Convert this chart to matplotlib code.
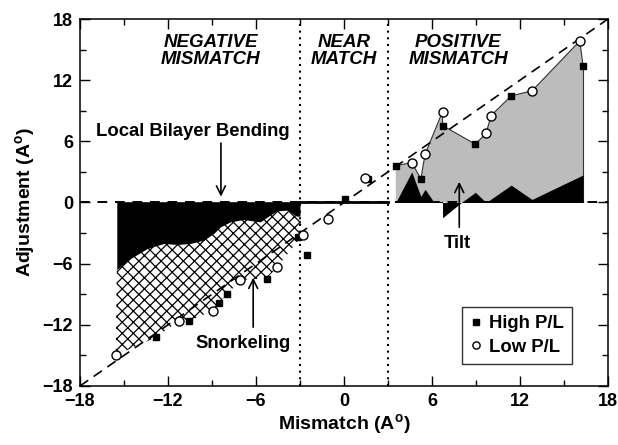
import matplotlib
matplotlib.use("Agg")
import matplotlib.pyplot as plt
import numpy as np
from matplotlib.ticker import MultipleLocator

plt.rcParams['font.family'] = ['Liberation Sans', 'DejaVu Sans']
plt.rcParams['font.weight'] = 'bold'
plt.rcParams['mathtext.fontset'] = 'custom'
plt.rcParams['mathtext.rm'] = 'Liberation Sans:bold'
plt.rcParams['mathtext.bf'] = 'Liberation Sans:bold'
plt.rcParams['hatch.linewidth'] = 0.9

# data
high_x = [-12.84, -10.58, -8.54, -7.98, -5.26, -3.11, -2.55, 0.1, 1.63, 3.53, 5.24, 6.72, 8.96, 11.4, 16.3]
high_y = [-13.24, -11.63, -9.9, -9.02, -7.55, -3.37, -5.16, 0.3, 2.27, 3.6, 2.32, 7.55, 5.72, 10.46, 13.4]
low_x = [-15.56, -11.26, -8.95, -7.07, -4.58, -2.82, -1.06, 1.45, 4.62, 5.53, 6.72, 9.69, 10.03, 12.82, 16.08]
low_y = [-14.97, -11.63, -10.62, -7.61, -6.37, -3.2, -1.58, 2.37, 3.92, 4.74, 8.92, 6.8, 8.53, 10.95, 15.85]

# local bilayer bending (black, negative side)
bend_x = [-15.49, -14.54, -13.41, -12.28, -11.37, -10.47, -9.56, -8.88, -8.43, -7.75, -6.85, -5.71, -5.04, -4.58, -3.9, -3.23, -3.0]
bend_y = [-6.57, -5.49, -4.51, -4.02, -4.12, -4.02, -3.69, -3.04, -2.39, -1.9, -1.67, -1.9, -1.24, -0.82, -0.75, -1.34, -1.34]

# snorkeling lower edge
snork_x = [-15.56, -12.84, -11.26, -10.58, -8.95, -8.54, -7.98, -7.07, -5.26, -4.58, -2.82]
snork_y = [-14.97, -13.24, -11.63, -11.63, -10.62, -9.9, -9.02, -7.61, -7.45, -6.37, -3.2]

# positive mismatch envelope (gray) and tilt (black)
pos_x = [3.53, 4.62, 5.24, 5.53, 6.72, 6.72, 8.96, 9.69, 10.03, 11.4, 12.82, 16.08, 16.3]
pos_y = [3.6, 3.92, 2.32, 4.74, 8.92, 7.55, 5.72, 6.8, 8.53, 10.46, 10.95, 15.85, 13.4]
tilt_x = [3.53, 4.62, 5.24, 5.53, 6.1, 6.72, 6.72, 8.0, 8.96, 9.69, 11.4, 12.82, 16.3]
tilt_y = [0, 3.0, 0.6, 1.3, 0.1, 0.1, -1.5, 0, 1.0, 0, 1.7, 0.3, 2.7]

fig = plt.figure(figsize=(6.18, 4.45), dpi=100)
ax = fig.add_axes([0.1294, 0.1326, 0.8544, 0.8247])

# fills
ax.fill_between(bend_x, bend_y, 0.08, color='black', lw=0, zorder=2)
poly_x = bend_x + snork_x[::-1]
poly_y = bend_y + snork_y[::-1]
ax.fill(poly_x, poly_y, facecolor='white', edgecolor='black', hatch='xxx', lw=0, zorder=1)
ax.fill_between(pos_x, 0, pos_y, facecolor='#bcbcbc', edgecolor='none', zorder=1)
ax.plot(pos_x, pos_y, color='#333333', lw=0.8, zorder=2)
ax.plot([pos_x[-1], pos_x[-1]], [0, pos_y[-1]], color='#333333', lw=0.8, zorder=2)
ax.fill_between(tilt_x, 0, tilt_y, color='black', lw=0, zorder=2)

# reference lines
ax.plot([-18, 18], [-18, 18], color='black', ls=(0, (6, 4)), lw=1.2, zorder=3)
ax.axhline(0, color='black', ls=(0, (5, 4)), lw=1.4, zorder=1.5)
ax.plot([-3, 3], [0, 0], color='black', lw=2, zorder=3)
for xv in (-3, 3):
    ax.axvline(xv, color='black', ls=(0, (1, 2.2)), lw=1.5, zorder=3)

# data points
ax.plot(high_x, high_y, 's', color='black', ms=5, ls='none', zorder=5, label='High P/L')
ax.plot(low_x, low_y, 'o', mfc='white', mec='black', mew=1, ms=6.5, ls='none', zorder=5, label='Low P/L')

# region labels
kw = dict(ha='center', va='center', fontsize=13.5, fontweight='bold', style='italic', linespacing=1.05)
ax.text(-9.1, 14.85, 'NEGATIVE\nMISMATCH', **kw)
ax.text(0, 14.85, 'NEAR\nMATCH', **kw)
ax.text(7.8, 14.85, 'POSITIVE\nMISMATCH', **kw)

# annotations
ax.text(-10.3, 6.94, 'Local Bilayer Bending', ha='center', va='center', fontsize=13.3)
ax.annotate('', xy=(-8.39, 0.3), xytext=(-8.39, 6.1),
            arrowprops=dict(arrowstyle='->', lw=1.2, color='black', mutation_scale=16))
ax.text(-6.9, -13.8, 'Snorkeling', ha='center', va='center', fontsize=13.3)
ax.annotate('', xy=(-6.19, -7.1), xytext=(-6.19, -12.5),
            arrowprops=dict(arrowstyle='->', lw=1.2, color='black', mutation_scale=16))
ax.text(7.7, -4.0, 'Tilt', ha='center', va='center', fontsize=13.3)
ax.annotate('', xy=(7.86, 2.3), xytext=(7.86, -2.7),
            arrowprops=dict(arrowstyle='->', lw=1.2, color='black', mutation_scale=16))

ax.set_xlim(-18, 18)
ax.set_ylim(-18, 18)
ax.xaxis.set_major_locator(MultipleLocator(6))
ax.xaxis.set_minor_locator(MultipleLocator(3))
ax.yaxis.set_major_locator(MultipleLocator(6))
ax.yaxis.set_minor_locator(MultipleLocator(3))
ax.tick_params(which='both', direction='in', top=True, right=True, width=1, labelsize=13)
ax.tick_params(which='major', length=7)
ax.tick_params(which='minor', length=4)
ax.tick_params(axis='x', pad=5)
ax.tick_params(axis='y', pad=5)
for s in ax.spines.values():
    s.set_linewidth(1.1)

ax.set_xlabel(r'Mismatch (A$^{\mathbf{o}}$)', fontsize=14, fontweight='bold', labelpad=2)
ax.set_ylabel(r'Adjustment (A$^{\mathbf{o}}$)', fontsize=14, fontweight='bold', labelpad=3)

leg = ax.legend(loc='lower right', bbox_to_anchor=(0.95, 0.035), frameon=True, fancybox=False,
                edgecolor='black', fontsize=13.3, handlelength=0.6, handletextpad=0.4,
                borderpad=0.45, labelspacing=0.35, markerscale=0.8)
leg.get_frame().set_linewidth(1)

fig.savefig('out.png', dpi=100)
